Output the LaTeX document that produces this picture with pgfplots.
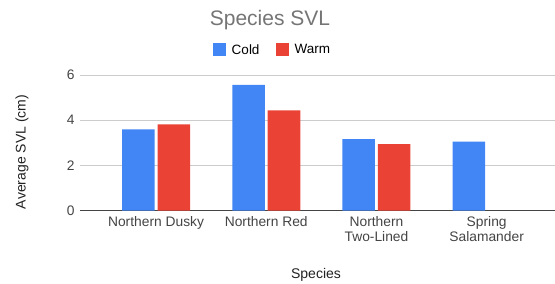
\documentclass[border=0pt]{standalone}
\usepackage{pgfplots}
\pgfplotsset{compat=1.18}
\usepackage{fontspec}
\setmainfont{Liberation Sans}
\definecolor{cblue}{HTML}{4285F4}
\definecolor{cred}{HTML}{EA4335}
\definecolor{gridc}{HTML}{CCCCCC}
\definecolor{titlec}{HTML}{757575}
\definecolor{tickc}{HTML}{444444}
\definecolor{labc}{HTML}{222222}
\begin{document}
\begin{tikzpicture}[x=1pt,y=1pt]
\useasboundingbox (0,0) rectangle (555,284);
\begin{axis}[
  at={(80pt,73.3pt)}, anchor=south west,
  scale only axis, width=475pt, height=135.7pt,
  xmin=-0.69, xmax=3.62, ymin=0, ymax=6,
  ybar, bar width=0.295,
  axis x line*=bottom, axis y line*=left,
  x axis line style={draw=tickc, line width=0.8pt},
  y axis line style={draw=none},
  ytick={0,2,4,6}, ymajorgrids, grid style={gridc, line width=0.8pt},
  xtick={0,1,2,3}, major tick length=0pt,
  xticklabels={{Northern Dusky},{Northern Red},{Northern\\Two-Lined},{Spring\\Salamander}},
  xticklabel style={align=center, font=\fontsize{13.8}{15}\selectfont, text=tickc, yshift=-2pt},
  yticklabel style={font=\fontsize{13.8}{15}\selectfont, text=tickc, xshift=-2pt},
  /pgf/number format/assume math mode=true,
  legend style={at={(0.405,1.185)}, anchor=center, draw=none, legend columns=2,
    font=\fontsize{13.5}{15}\selectfont, /tikz/every even column/.append style={column sep=14pt}},
  legend image code/.code={\fill[#1] (0pt,-6.5pt) rectangle (13pt,6.5pt);},
]
\addplot[fill=cblue, draw=none, bar shift=-0.161] coordinates {(0,3.60) (1,5.56) (2,3.16) (3,3.05)};
\addplot[fill=cred, draw=none, bar shift=0.161] coordinates {(0,3.82) (1,4.44) (2,2.94)};
\legend{\hspace{4pt}Cold,\hspace{4pt}Warm}
\end{axis}
\node[font=\fontsize{21}{24}\selectfont, text=titlec] at (270,284-20) {Species SVL};
\node[rotate=90, font=\fontsize{14}{15}\selectfont, text=labc] at (22,284-152) {Average SVL (cm)};
\node[font=\fontsize{14}{15}\selectfont, text=labc] at (316,284-275) {Species};
\end{tikzpicture}
\end{document}
